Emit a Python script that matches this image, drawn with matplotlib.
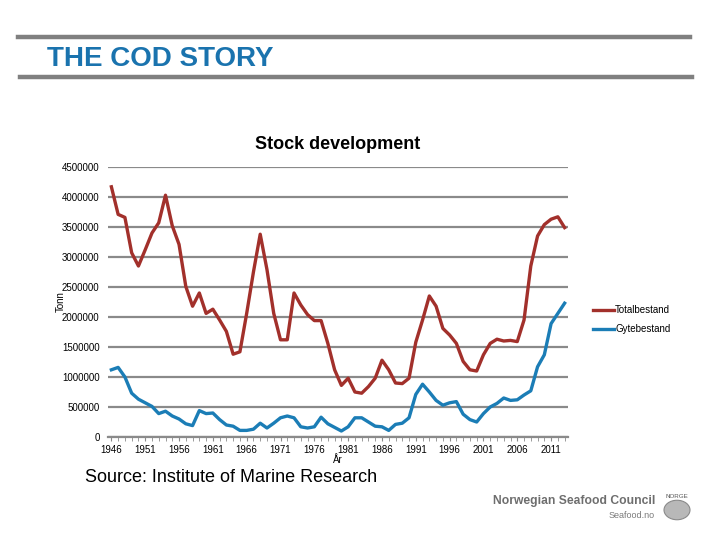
import numpy as np
import matplotlib.pyplot as plt
from matplotlib.ticker import MultipleLocator

years = list(range(1946, 2014))

# Totalbestand (tonn)
total = [4170000, 3710000, 3660000, 3070000, 2850000, 3120000, 3400000, 3570000, 4030000, 3520000,
         3210000, 2510000, 2180000, 2400000, 2060000, 2130000, 1950000, 1760000, 1380000, 1420000,
         2060000, 2750000, 3380000, 2790000, 2060000, 1620000, 1620000, 2400000, 2200000, 2040000,
         1940000, 1940000, 1560000, 1120000, 860000, 980000, 750000, 730000, 840000, 980000,
         1280000, 1120000, 900000, 890000, 980000, 1580000, 1950000, 2350000, 2180000, 1810000,
         1700000, 1560000, 1260000, 1120000, 1100000, 1370000, 1560000, 1630000, 1600000, 1610000,
         1590000, 1950000, 2850000, 3350000, 3540000, 3630000, 3670000, 3490000]

# Gytebestand (tonn)
spawning = [1120000, 1160000, 1000000, 730000, 630000, 570000, 510000, 390000, 430000, 350000,
            300000, 220000, 190000, 440000, 390000, 400000, 290000, 200000, 180000, 110000,
            110000, 130000, 230000, 150000, 230000, 320000, 350000, 320000, 170000, 150000,
            170000, 330000, 220000, 160000, 100000, 170000, 320000, 320000, 250000, 180000,
            170000, 110000, 210000, 230000, 320000, 710000, 880000, 750000, 610000, 530000,
            570000, 590000, 380000, 290000, 250000, 390000, 500000, 560000, 650000, 610000,
            620000, 700000, 770000, 1170000, 1370000, 1890000, 2060000, 2230000]

tick_years = list(range(1946, 2014, 5))
y_ticks = list(range(0, 4500001, 500000))

red = '#a2302b'
blue = '#1b7db6'
grid_grey = '#8a8a8a'

fig = plt.figure(figsize=(7.2, 5.4), dpi=100)
plt.rcParams['font.family'] = ['Liberation Sans', 'DejaVu Sans']

# header bars and title
fig.add_artist(plt.Line2D([18/720, 690/720], [1-37/540, 1-37/540], color='#808080', lw=3.2))
fig.add_artist(plt.Line2D([20/720, 692/720], [1-77/540, 1-77/540], color='#808080', lw=3.2))
fig.text(47/720, 1-59/540, 'THE COD STORY', color='#1a73ae', fontsize=20, fontweight='bold',
         va='center', ha='left')

ax = fig.add_axes([108/720, 1-437/540, 460/720, 270/540])
ax.plot(years, total, color=red, lw=2.4, label='Totalbestand', solid_joinstyle='round')
ax.plot(years, spawning, color=blue, lw=2.4, label='Gytebestand', solid_joinstyle='round')

ax.set_xlim(1945.5, 2013.5)
ax.set_ylim(0, 4500000)
ax.set_yticks(y_ticks)
ax.set_yticklabels([str(v) for v in y_ticks], fontsize=7)
ax.set_xticks(tick_years)
ax.set_xticklabels([str(y) for y in tick_years], fontsize=7)
ax.xaxis.set_minor_locator(MultipleLocator(1))
ax.tick_params(axis='x', which='both', direction='out', length=3, color=grid_grey, pad=3)
ax.tick_params(axis='y', length=0, pad=6)
ax.yaxis.grid(True, color=grid_grey, lw=1.6)
ax.set_axisbelow(True)
for s in ['top', 'right', 'left']:
    ax.spines[s].set_visible(False)
ax.spines['bottom'].set_color(grid_grey)
ax.spines['bottom'].set_linewidth(1.6)

ax.set_title('Stock development', fontsize=13, fontweight='bold', pad=13)
ax.set_ylabel('Tonn', fontsize=7, labelpad=-3)
ax.set_xlabel('År', fontsize=7, labelpad=0)

ax.legend(loc='center left', bbox_to_anchor=(1.035, 0.435), frameon=False, fontsize=7,
          handlelength=2.2, handletextpad=0.1, labelspacing=0.9)

fig.text(85/720, 1-478/540, 'Source: Institute of Marine Research', fontsize=13,
         va='center', ha='left')

# footer logo
fig.text(655/720, 1-501/540, 'Norwegian Seafood Council', fontsize=8.7, fontweight='bold',
         color='#6e6e6e', ha='right', va='center')
fig.text(655/720, 1-515/540, 'Seafood.no', fontsize=6.5, color='#7a7a7a', ha='right', va='center')
fig.add_artist(plt.Circle((677/720, 1-510/540), 13/720, transform=fig.transFigure,
                          facecolor='#b8b8b8', edgecolor='#8a8a8a', lw=0.8))
fig.text(677/720, 1-496/540, 'NORGE', fontsize=4.5, color='#555555', ha='center', va='center')

fig.savefig('out.png', dpi=100)
